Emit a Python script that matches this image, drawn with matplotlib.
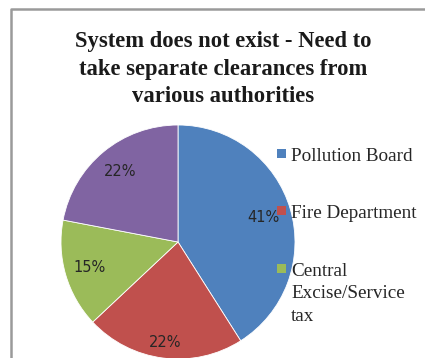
import numpy as np
import matplotlib
matplotlib.use("Agg")
import matplotlib.pyplot as plt
from matplotlib.patches import Rectangle
from matplotlib.lines import Line2D

# Survey shares by authority
categories = ["Pollution Board", "Fire Department", "Central\nExcise/Service\ntax", "Others"]
shares = [41, 22, 15, 22]
colors = ["#4F81BD", "#C0504D", "#9BBB59", "#8064A2"]
legend_items = categories[:3]

W, H = 425, 358
fig = plt.figure(figsize=(W / 100, H / 100), dpi=100)
fig.patch.set_facecolor("white")

# chart-area frame (left and top edges)
fig.add_artist(Line2D([10.5 / W, 10.5 / W, 1.0], [0.0, 1 - 9 / H, 1 - 9 / H],
                      transform=fig.transFigure, color="#9a9a9a", lw=1.8))

# pie axes
cx, cy, r = 178, 242, 117
ax = fig.add_axes([(cx - r) / W, (H - cy - r) / H, 2 * r / W, 2 * r / H])
wedges, texts, autotexts = ax.pie(
    shares, colors=colors, startangle=90, counterclock=False,
    autopct="%d%%", pctdistance=0.8, radius=1.0,
    wedgeprops=dict(edgecolor="white", linewidth=0.6),
    textprops=dict(fontsize=10.5, color="#262626", family="DejaVu Sans"))

# per-slice label distance from the centre
label_dist = [0.76, 0.87, 0.79, 0.78]
for w, t, d in zip(wedges, autotexts, label_dist):
    ang = np.deg2rad((w.theta1 + w.theta2) / 2)
    t.set_position((d * np.cos(ang), d * np.sin(ang)))

ax.set_xlim(-1, 1)
ax.set_ylim(-1, 1)
ax.set_aspect("equal")
ax.axis("off")

# title
fig.text(223 / W, 1 - 31 / H,
         "System does not exist - Need to\ntake separate clearances from\nvarious authorities",
         ha="center", va="top", fontsize=16.3, fontweight="bold",
         family="Liberation Serif", color="#1a1a1a", linespacing=1.42)

# legend
ys = [155, 212, 270]
for label, col, y in zip(legend_items, colors, ys):
    fig.add_artist(Rectangle((277 / W, 1 - (y + 2.5) / H), 9 / W, 9 / H,
                             transform=fig.transFigure, facecolor=col, edgecolor="none"))
    fig.text(291 / W, 1 - (y - 7) / H, label, ha="left", va="top",
             fontsize=13.8, family="Liberation Serif", color="#262626", linespacing=1.42)

fig.savefig("out.png", dpi=100)
